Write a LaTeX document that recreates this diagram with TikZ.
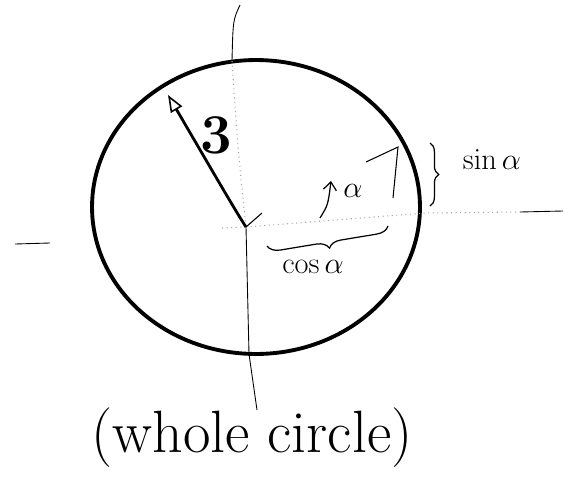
\documentclass[tikz,border=0pt]{standalone}
\usetikzlibrary{arrows.meta,positioning,calc,decorations.pathreplacing}
\tikzset{
  rim/.style={draw=black, line width=2.2pt},
  axisline/.style={draw=black, line width=0.5pt},
  faintaxis/.style={draw=gray!70, line width=0.6pt, dotted},
  vec/.style={-{Triangle[open, length=3.4mm, width=2.6mm, line width=0.9pt]}, line width=1.6pt},
  thinline/.style={draw=black, line width=0.6pt},
  anglearrow/.style={-{Straight Barb[length=1.6mm, width=2.6mm]}, line width=0.7pt},
  bracemark/.style={decorate, decoration={brace, amplitude=#1}, line width=0.7pt},
  bracemark/.default=6pt,
  handlabel/.style={inner sep=0pt, font=\fontsize{18}{20}\selectfont}
}
\begin{document}
\begin{tikzpicture}[x=0.02cm, y=-0.02cm]
  \useasboundingbox (0,0) rectangle (574,477);
  % centre and rim
  \coordinate (O) at (246,227);
  \coordinate (C) at (256,207);
  \draw[rim] (C) ellipse [x radius=3.28cm, y radius=2.94cm];
  % vertical axis
  \coordinate (vtop) at (240,5);
  \coordinate (vrim) at (232,61);
  \coordinate (vlow) at (249,354);
  \coordinate (vbot) at (257,410);
  \draw[axisline] (vtop) .. controls (233,20) .. (vrim);
  \draw[faintaxis] (vrim) .. controls (238,150) .. (O);
  \draw[axisline] (O) -- (vlow) -- (vbot);
  % horizontal axis
  \coordinate (hl1) at (15,244);
  \coordinate (hl2) at (50,243);
  \coordinate (hl3) at (222,228);
  \coordinate (hr1) at (425,213);
  \coordinate (hr2) at (520,212);
  \coordinate (hr3) at (563,211);
  \draw[axisline] (hl1) -- (hl2);
  \draw[faintaxis] (hl3) -- (O);
  \draw[faintaxis] (O) -- (hr1) -- (hr2);
  \draw[axisline] (hr2) -- (hr3);
  % vector
  \coordinate (tip) at (168,95);
  \draw[vec] (O) .. controls (236,212) and (206,160) .. (tip);
  \node[font=\bfseries\fontsize{32}{34}\selectfont, inner sep=0pt] (lblB) at (216,135) {3};
  % angle
  \coordinate (ray1) at (262,213);
  \coordinate (ray2) at (366,162);
  \coordinate (ray3) at (398,147);
  \coordinate (foot) at (393,198);
  \draw[thinline] (O) -- (ray1);
  \draw[thinline] (ray2) -- (ray3) -- (foot);
  \coordinate (arcstart) at (320,218);
  \coordinate (arcend) at (331,181);
  \draw[anglearrow] (arcstart) .. controls (328,205) .. (arcend);
  \node[handlabel] (lblalpha) at (353,191) {$\alpha$};
  % braces
  \coordinate (sinT) at (430,143);
  \coordinate (sinB) at (430,206);
  \draw[bracemark=5pt] (sinT) -- (sinB);
  \node[handlabel] (lblsin) at (492,160) {$\sin\alpha$};
  \coordinate (cosR) at (388,226);
  \coordinate (cosL) at (267,246);
  \draw[bracemark=7pt] (cosR) -- (cosL);
  \node[handlabel] (lblcos) at (313,267) {$\cos\alpha$};
  \node[font=\fontsize{34}{40}\selectfont, inner sep=0pt] (caption) at (252,438) {(whole circle)};
\end{tikzpicture}
\end{document}
